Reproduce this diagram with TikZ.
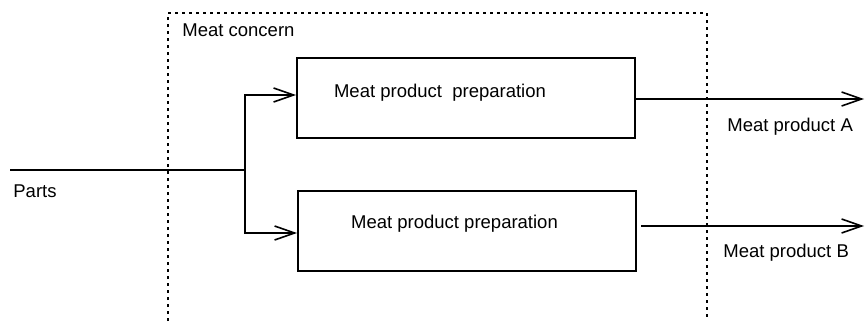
\documentclass[tikz,border=0pt]{standalone}
\usepackage{fontspec}
\setmainfont{Liberation Sans}
\usepackage{tikz}
\usetikzlibrary{positioning,arrows.meta,calc}

\begin{document}
\begin{tikzpicture}[
    x=0.5pt, y=-0.5pt,
    prepbox/.style={draw, line width=1pt, minimum width=169pt, minimum height=40pt, inner sep=0pt},
    arrow/.style={-{Straight Barb[length=10pt, width=7pt, line width=0.8pt]}, line width=0.8pt},
    flow/.style={line width=0.8pt},
    frame/.style={line width=1.2pt, dash pattern=on 1.5pt off 2pt},
    lbl/.style={font=\fontsize{9.25}{11}\selectfont, inner sep=0pt}
]
\useasboundingbox (0,0) rectangle (865,321);

% Meat concern frame
\draw[frame] (168,321) |- (707,13) -- (707,321);
\node[lbl, anchor=west] (concern) at (182,30) {Meat concern};

% Preparation boxes
\node[prepbox] (prep1) at (466,98) {};
\node[prepbox, below=25.5pt of prep1, xshift=0.5pt] (prep2) {};
\node[lbl] (prep1txt) at ([xshift=-13pt, yshift=2.5pt]prep1.center) {Meat product\ \ preparation};
\node[lbl] (prep2txt) at ([xshift=-6.25pt, yshift=3.5pt]prep2.center) {Meat product preparation};

% Input
\coordinate (partsin) at (10,170);
\coordinate (split) at (245,170);
\node[lbl, anchor=west] (parts) at (13,191) {Parts};

% Outputs
\coordinate (outA) at (864,99);
\coordinate (outB) at (864,226);
\node[lbl, anchor=west] (prodA) at (727,127) {Meat product A};
\node[lbl, anchor=west] (prodB) at (723,253) {Meat product B};

% Arrows
\draw[flow] (partsin) -- (split);
\draw[arrow] (split) |- ([yshift=1.5pt]prep1.west);
\draw[arrow] (split) |- ([yshift=-1pt]prep2.west);
\draw[arrow] (prep1.east |- outA) -- (outA);
\draw[arrow] ($(prep2.east |- outB)+(4,0)$) -- (outB);
\end{tikzpicture}
\end{document}
